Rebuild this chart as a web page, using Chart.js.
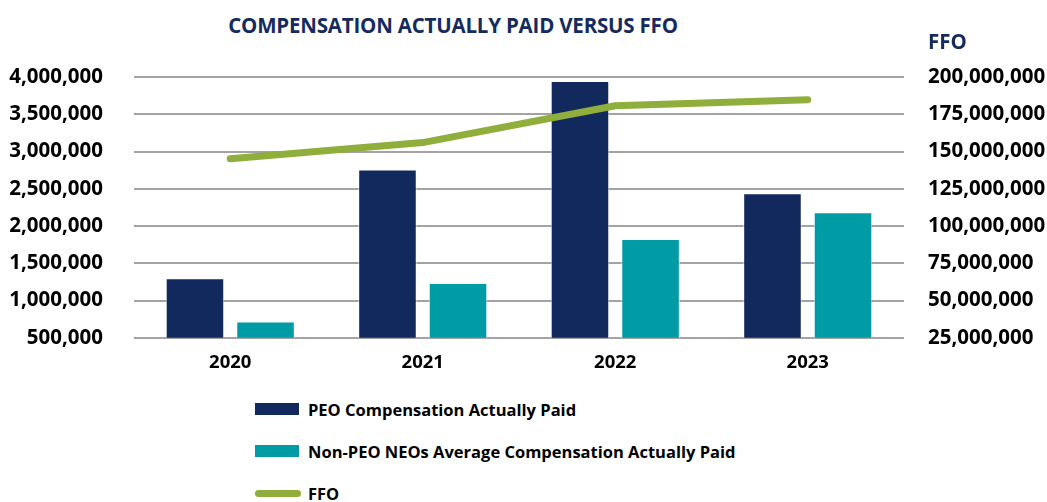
<!DOCTYPE html>
<html>
<head>
<meta charset="utf-8">
<script src="https://cdn.jsdelivr.net/npm/chart.js@4.4.1/dist/chart.umd.min.js"></script>
<style>
  html, body { margin: 0; padding: 0; background: #ffffff; }
  #wrap { position: relative; width: 1047px; height: 502px; overflow: hidden; font-family: "Open Sans", sans-serif; }
  #title {
    position: absolute; top: 11px; left: 0; width: 906px; text-align: center;
    font-weight: 700; font-size: 20.5px; color: #152b5e; letter-spacing: -0.2px;
  }
  #chartBox { position: absolute; top: 0; left: 0; width: 1047px; height: 386px; }
  #legend { position: absolute; left: 255px; top: 394px; }
  .lg-item { display: flex; align-items: center; height: 30px; margin-bottom: 12px;
    font-weight: 700; font-size: 16.5px; color: #000; }
  .lg-swatch { width: 44px; height: 12px; margin-right: 9px; }
  .lg-line { width: 46px; height: 7px; border-radius: 4px; margin-right: 7px; }
</style>
</head>
<body>
<div id="wrap">
  <div id="title">COMPENSATION ACTUALLY PAID VERSUS FFO</div>
  <div id="chartBox"><canvas id="capChart"></canvas></div>
  <div id="legend"></div>
</div>
<script>
// ── Data ───────────────────────────────────────────────────────────────────
const years = ['2020', '2021', '2022', '2023'];
const peoPaid = [1300000, 2760000, 3945000, 2440000];
const nonPeoAvgPaid = [720000, 1235000, 1825000, 2185000];
const ffoValues = [145200000, 156000000, 180700000, 184800000];

const leftMin = 500000, leftMax = 4000000, leftStep = 500000;
const rightMin = 25000000, rightMax = 200000000, rightStep = 25000000;

const NAVY = '#12295d';
const TEAL = '#009ca6';
const GREEN = '#8fae3b';

const tickFont = { family: '"Open Sans", sans-serif', size: 20.5, weight: '700' };
const fmt = v => v.toLocaleString('en-US');

// draws the "FFO" caption above the right axis
const rightCaption = {
    id: 'rightCaption',
    afterDraw(chart) {
        const s = chart.scales.yFfo;
        const ctx = chart.ctx;
        ctx.save();
        ctx.font = '700 20.5px "Open Sans", sans-serif';
        ctx.fillStyle = '#152b5e';
        ctx.textBaseline = 'middle';
        ctx.textAlign = 'left';
        ctx.fillText('FFO', s.left + 24, s.top - 34);
        ctx.restore();
    }
};

const ctx = document.getElementById('capChart').getContext('2d');
const chart = new Chart(ctx, {
    type: 'bar',
    data: {
        labels: years,
        datasets: [
            {
                type: 'line',
                label: 'FFO',
                data: ffoValues,
                yAxisID: 'yFfo',
                borderColor: GREEN,
                backgroundColor: GREEN,
                borderWidth: 7,
                borderCapStyle: 'round',
                borderJoinStyle: 'round',
                pointRadius: 0,
                tension: 0,
                order: 0
            },
            {
                label: 'PEO Compensation Actually Paid',
                data: peoPaid,
                yAxisID: 'yComp',
                backgroundColor: NAVY,
                borderColor: 'rgba(255,255,255,0.7)',
                borderWidth: 1,
                order: 1
            },
            {
                label: 'Non-PEO NEOs Average Compensation Actually Paid',
                data: nonPeoAvgPaid,
                yAxisID: 'yComp',
                backgroundColor: TEAL,
                borderColor: 'rgba(255,255,255,0.7)',
                borderWidth: 1,
                order: 1
            }
        ]
    },
    options: {
        responsive: true,
        maintainAspectRatio: false,
        animation: false,
        categoryPercentage: 0.733,
        barPercentage: 0.83,
        layout: { padding: { top: 77, left: 0, right: 0, bottom: 6 } },
        plugins: {
            legend: { display: false },
            title: { display: false },
            tooltip: { enabled: false }
        },
        scales: {
            x: {
                grid: { display: false },
                border: { display: false },
                ticks: { color: '#000', font: { family: '"Open Sans", sans-serif', size: 18.5, weight: '700' }, padding: 6 }
            },
            yComp: {
                position: 'left',
                min: leftMin,
                max: leftMax,
                grid: { color: '#a3a3a3', lineWidth: 2, drawTicks: false },
                border: { display: false },
                ticks: { stepSize: leftStep, color: '#000', font: tickFont, padding: 31, callback: fmt },
                afterFit: s => { s.width = 134; }
            },
            yFfo: {
                position: 'right',
                min: rightMin,
                max: rightMax,
                grid: { display: false, drawTicks: false },
                border: { display: false },
                ticks: { stepSize: rightStep, color: '#000', font: tickFont, padding: 24, callback: fmt },
                afterFit: s => { s.width = 1047 - 904; }
            }
        }
    },
    plugins: [rightCaption]
});

// ── HTML legend, stacked like the original ───────────────────────────────
const legendEl = document.getElementById('legend');
[1, 2, 0].forEach(i => {
    const ds = chart.data.datasets[i];
    const item = document.createElement('div');
    item.className = 'lg-item';
    const sw = document.createElement('span');
    sw.className = ds.type === 'line' ? 'lg-line' : 'lg-swatch';
    sw.style.background = ds.type === 'line' ? ds.borderColor : ds.backgroundColor;
    const txt = document.createElement('span');
    txt.textContent = ds.label;
    item.appendChild(sw);
    item.appendChild(txt);
    legendEl.appendChild(item);
});
</script>
</body>
</html>
